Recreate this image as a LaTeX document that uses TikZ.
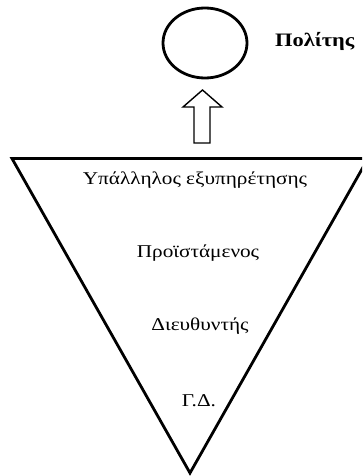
\documentclass[tikz,border=0pt]{standalone}
\usepackage{fontspec}
\setmainfont{Liberation Serif}
\newfontfamily\widefont[FakeStretch=1.18]{Liberation Serif}
\usetikzlibrary{shapes.geometric}
\begin{document}
\begin{tikzpicture}[x=1pt,y=-1pt,
  thick line/.style={line width=2.8pt,line join=miter},
  lbl/.style={inner sep=0pt,anchor=base,font=\widefont\fontsize{18}{20}\selectfont},
  blockarrow/.style={line width=1.4pt,line join=miter,fill=white}]
\useasboundingbox (0,0) rectangle (362,476);
\begin{scope}
\clip (0,0) rectangle (362,476);
% inverted triangle
\coordinate (tl) at (12,158.5);
\coordinate (tr) at (368,158.5);
\coordinate (tv) at (190,473);
\draw[thick line] (tl) -- (tr) -- (tv) -- cycle;
% citizen ellipse
\node[draw,ellipse,line width=2.8pt,minimum width=84pt,minimum height=70pt,inner sep=0pt] (pol) at (205,43) {};
\node[inner sep=0pt,anchor=base west,font=\widefont\fontsize{19}{22}\selectfont\bfseries] (poltxt) at (275,47) {Πολίτης};
% block arrow
\draw[blockarrow] (194,143) -- (194,107) -- (183,107) -- (202.5,90) -- (222,107) -- (210,107) -- (210,143) -- cycle;
% levels
\node[lbl] (l1) at (195,184) {Υπάλληλος εξυπηρέτησης};
\node[lbl] (l2) at (198,257) {Προϊστάμενος};
\node[lbl] (l3) at (200,330) {Διευθυντής};
\node[lbl] (l4) at (199,406) {Γ.Δ.};
\end{scope}
\end{tikzpicture}
\end{document}
